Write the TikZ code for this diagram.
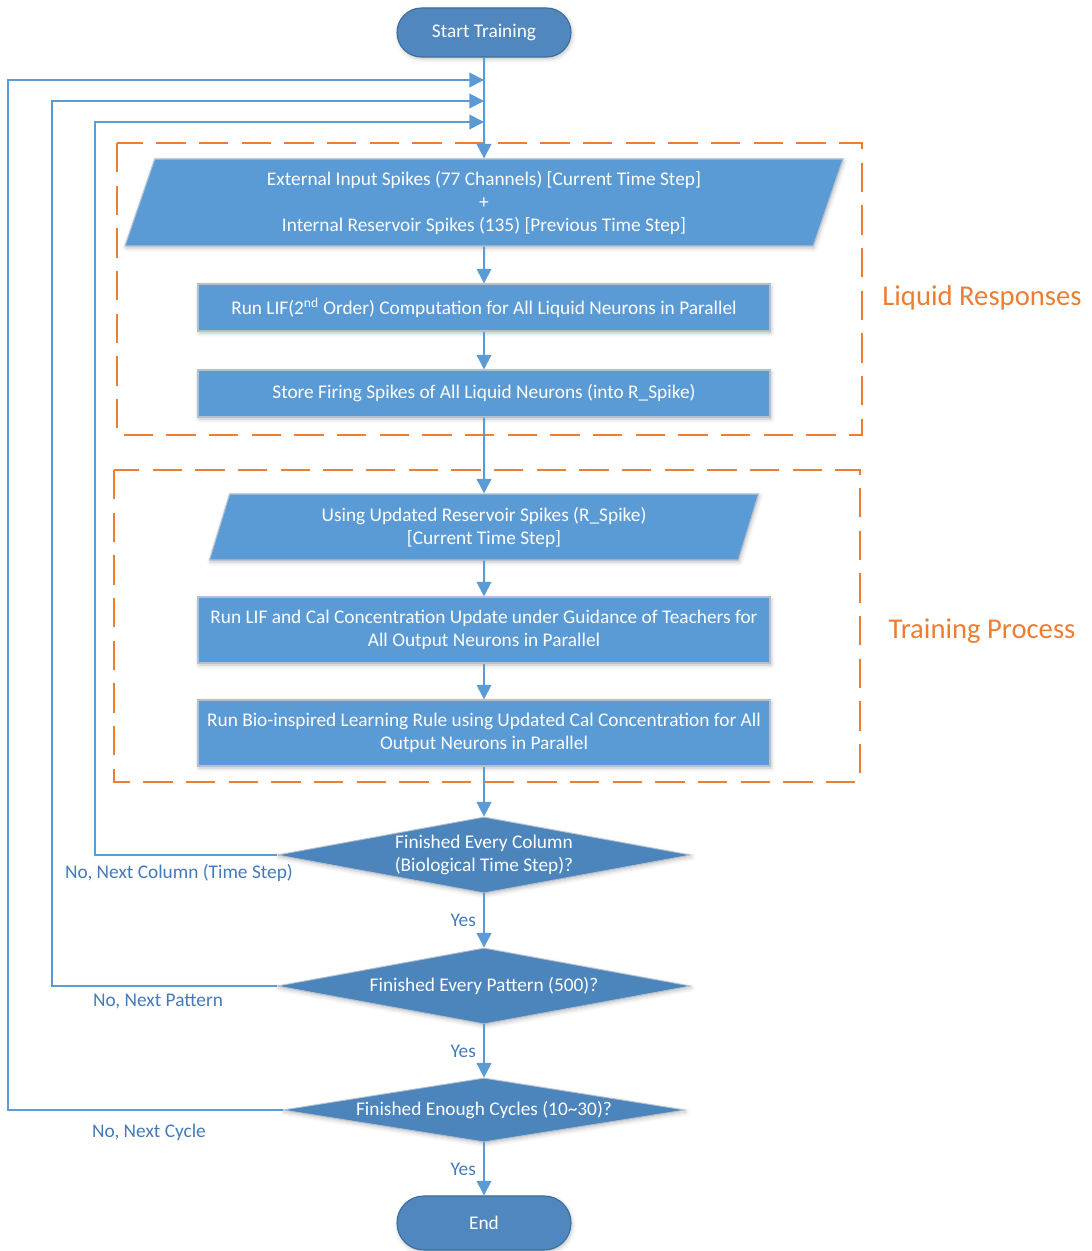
\documentclass[tikz,border=0pt]{standalone}
\usepackage{fontspec}
\setmainfont{Carlito}
\usetikzlibrary{arrows.meta,shadows.blur,shapes.geometric,calc}

\definecolor{boxfill}{RGB}{91,155,213}
\definecolor{boxedge}{RGB}{178,192,208}
\definecolor{termfill}{RGB}{79,135,190}
\definecolor{termedge}{RGB}{62,108,152}
\definecolor{decfill}{RGB}{76,132,188}
\definecolor{linecol}{RGB}{91,155,213}
\definecolor{groupcol}{RGB}{237,125,49}
\definecolor{notecol}{RGB}{68,122,186}

\newcommand\flowfont{\fontsize{14.5}{17.25}\selectfont}
\newcommand\groupfont{\fontsize{21.5}{25}\selectfont}

\tikzset{
  softshadow/.style={blur shadow={shadow xshift=0.8pt, shadow yshift=-1.5pt,
      shadow blur radius=3pt, shadow opacity=25}},
  flowline/.style={draw=linecol, line width=1.5pt,
      -{Triangle[length=11pt,width=11pt]}},
  terminal/.style={rectangle, rounded corners=18.3pt, fill=termfill,
      draw=termedge, line width=0.8pt, text=white, font=\flowfont,
      minimum width=174*0.75pt, minimum height=49*0.75pt, softshadow},
  procbox/.style={rectangle, fill=boxfill, draw=boxedge, line width=0.8pt,
      text=white, font=\flowfont, align=center, inner sep=0pt,
      minimum width=572*0.75pt, softshadow},
  iobox/.style={trapezium, trapezium stretches body, fill=boxfill,
      draw=boxedge, line width=0.8pt, text=white, font=\flowfont,
      align=center, inner sep=0pt, softshadow},
  decision/.style={diamond, fill=decfill, draw=boxedge, line width=0.6pt,
      text=white, font=\flowfont, align=center, inner sep=0pt, softshadow},
  groupbox/.style={draw=groupcol, line width=1.1pt,
      dash pattern=on 22pt off 10pt},
  grouplabel/.style={text=groupcol, font=\groupfont},
  note/.style={text=notecol, font=\flowfont},
}

\begin{document}
\begin{tikzpicture}[x=0.75pt,y=-0.75pt]
  \useasboundingbox (0,0) rectangle (1091,1251);

  % dashed group frames
  \draw[groupbox] (117,143) rectangle (862,435);
  \draw[groupbox] (114,470) rectangle (860,782);
  \node[grouplabel] (glr) at (982,298) {Liquid Responses};
  \node[grouplabel] (gtp) at (982,631) {Training Process};

  % start / end
  \node[terminal] (start) at (484,32.5) {Start Training};
  \node[terminal, minimum height=54*0.75pt, rounded corners=20pt] (finish) at (484,1223) {End};

  % liquid response stage
  \node[iobox, trapezium left angle=64.8, trapezium right angle=115.2,
        minimum width=718*0.75pt, minimum height=87*0.75pt] (p1) at (484,202.5)
    {External Input Spikes (77 Channels) [Current Time Step]\\+\\Internal Reservoir Spikes (135) [Previous Time Step]};
  \node[procbox, minimum height=47*0.75pt] (lif) at (484,307.5)
    {Run LIF(2\textsuperscript{nd} Order) Computation for All Liquid Neurons in Parallel};
  \node[procbox, minimum height=47*0.75pt] (store) at (484,393.5)
    {Store Firing Spikes of All Liquid Neurons (into R\_Spike)};

  % training stage
  \node[iobox, trapezium left angle=63.4, trapezium right angle=116.6,
        minimum width=549*0.75pt, minimum height=66*0.75pt] (p2) at (484,527)
    {Using Updated Reservoir Spikes (R\_Spike)\\{}[Current Time Step]};
  \node[procbox, minimum height=66*0.75pt] (cal) at (484,630)
    {Run LIF and Cal Concentration Update under Guidance of Teachers for\\All Output Neurons in Parallel};
  \node[procbox, minimum height=66*0.75pt] (learn) at (484,733)
    {Run Bio-inspired Learning Rule using Updated Cal Concentration for All\\Output Neurons in Parallel};

  % decisions
  \node[decision, aspect=5.43, minimum width=413*0.75pt, minimum height=76*0.75pt] (d1) at (484,855)
    {Finished Every Column\\(Biological Time Step)?};
  \node[decision, aspect=5.43, minimum width=413*0.75pt, minimum height=76*0.75pt] (d2) at (484,986)
    {Finished Every Pattern (500)?};
  \node[decision, aspect=6.28, minimum width=402*0.75pt, minimum height=64*0.75pt] (d3) at (484,1110)
    {Finished Enough Cycles (10\textasciitilde 30)?};

  % merge points on the main line and loop corners
  \coordinate (m3) at (484,80);
  \coordinate (m2) at (484,101);
  \coordinate (m1) at (484,122);
  \coordinate (k3) at (8,80);
  \coordinate (k2) at (52,101);
  \coordinate (k1) at (95,122);

  % main flow
  \draw[flowline] (start) -- (p1);
  \draw[flowline] (p1) -- (lif);
  \draw[flowline] (lif) -- (store);
  \draw[flowline] (store) -- (p2);
  \draw[flowline] (p2) -- (cal);
  \draw[flowline] (cal) -- (learn);
  \draw[flowline] (learn) -- (d1);
  \draw[flowline] (d1) -- node[note, left=2pt] (y1) {Yes} (d2);
  \draw[flowline] (d2) -- node[note, left=2pt] (y2) {Yes} (d3);
  \draw[flowline] (d3) -- node[note, left=2pt] (y3) {Yes} (finish);

  % loops back to the start of the pass
  \draw[flowline] (d1.west) -| (k1) -- (m1);
  \draw[flowline] (d2.west) -| (k2) -- (m2);
  \draw[flowline] (d3.west) -| (k3) -- (m3);

  \node[note] (n1) at (179,873) {No, Next Column (Time Step)};
  \node[note] (n2) at (158,1002) {No, Next Pattern};
  \node[note] (n3) at (149,1132) {No, Next Cycle};
\end{tikzpicture}
\end{document}
